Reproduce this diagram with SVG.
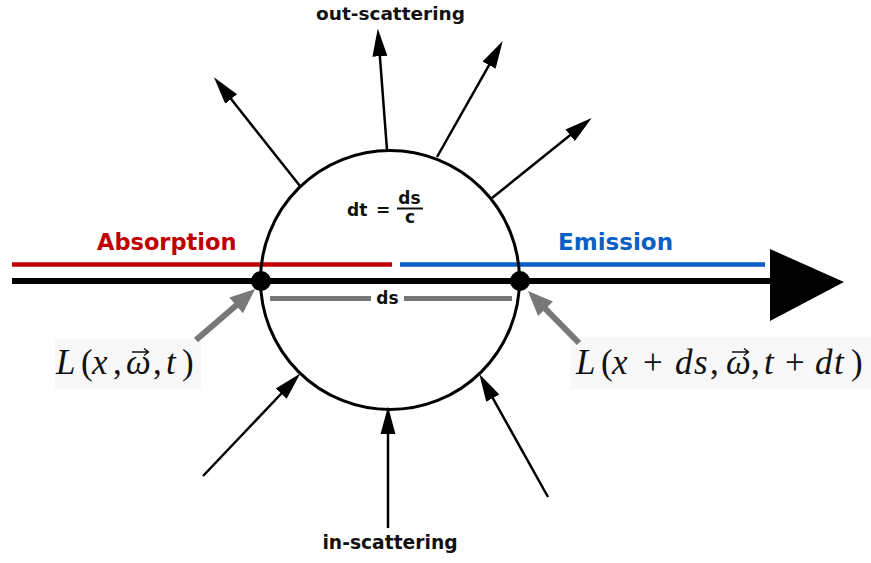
<svg xmlns="http://www.w3.org/2000/svg" width="871" height="563" viewBox="0 0 871 563">
<style>
.lbl{font-family:"DejaVu Sans","Verdana",sans-serif;font-weight:bold;fill:#111}
.math{font-family:"Liberation Serif","DejaVu Serif",serif;font-size:35px;fill:#111}
.it{font-style:italic}
.vec{stroke:#111;stroke-width:1.4;fill:none}
.thin{stroke:#000;stroke-width:2.5;fill:none}
.gray{stroke:#787878;stroke-width:6;fill:none}
</style>
<defs>
<marker id="ah" markerUnits="userSpaceOnUse" markerWidth="30" markerHeight="20" viewBox="0 -8 26 16" refX="2" refY="0" orient="auto">
<path d="M0,-6.5 L24,0 L0,6.5 z" fill="#000"/>
</marker>
<marker id="gh" markerUnits="userSpaceOnUse" markerWidth="30" markerHeight="24" viewBox="0 -11 26 22" refX="2" refY="0" orient="auto">
<path d="M0,-9.5 L23,0 L0,9.5 z" fill="#787878"/>
</marker>
</defs>
<rect width="871" height="563" fill="#fff"/>
<rect x="55" y="338" width="146" height="51" fill="#f8f8f8"/>
<rect x="570" y="337" width="301" height="53" fill="#f8f8f8"/>

<g id="bands">
<line x1="12" y1="264.5" x2="392" y2="264.5" stroke="#c00000" stroke-width="4.5"/>
<line x1="400" y1="264.5" x2="765" y2="264.5" stroke="#0a5fc2" stroke-width="4.5"/>
<text class="lbl" x="97" y="250" font-size="22.5" style="fill:#c00000">Absorption</text>
<text class="lbl" x="558" y="250" font-size="23" style="fill:#0a5fc2">Emission</text>
</g>

<g id="volume">
<circle cx="390" cy="280" r="129.5" fill="none" stroke="#000" stroke-width="3"/>
<text class="lbl" x="347" y="216" font-size="17">dt</text>
<text class="lbl" x="376" y="216" font-size="17">=</text>
<text class="lbl" x="409.5" y="204" font-size="17" text-anchor="middle">ds</text>
<line x1="397" y1="208.5" x2="423" y2="208.5" stroke="#111" stroke-width="2"/>
<text class="lbl" x="410" y="223" font-size="17" text-anchor="middle">c</text>
</g>

<g id="connectors">
<line x1="12" y1="281" x2="772" y2="281" stroke="#000" stroke-width="6"/>
<polygon points="770,249 844,282 770,321" fill="#000"/>
<line x1="270" y1="298.5" x2="371" y2="298.5" stroke="#777" stroke-width="5"/>
<line x1="404" y1="298.5" x2="512" y2="298.5" stroke="#777" stroke-width="5"/>
<line class="thin" x1="300" y1="186" x2="229.7" y2="97.2" marker-end="url(#ah)"/>
<line class="thin" x1="387" y1="150" x2="379.7" y2="53.9" marker-end="url(#ah)"/>
<line class="thin" x1="437" y1="157" x2="490.2" y2="63.1" marker-end="url(#ah)"/>
<line class="thin" x1="492" y1="198" x2="571.9" y2="133.8" marker-end="url(#ah)"/>
<line class="thin" x1="203" y1="476" x2="282.8" y2="392" marker-end="url(#ah)"/>
<line class="thin" x1="388" y1="528" x2="388" y2="432" marker-end="url(#ah)"/>
<line class="thin" x1="548" y1="497" x2="491.7" y2="396.2" marker-end="url(#ah)"/>
<line class="gray" x1="196" y1="340" x2="237.8" y2="304" marker-end="url(#gh)"/>
<line class="gray" x1="579" y1="343" x2="544" y2="307.3" marker-end="url(#gh)"/>
</g>

<g id="points">
<circle cx="261" cy="281" r="10" fill="#000"/>
<circle cx="520" cy="281" r="10" fill="#000"/>
<text class="lbl" x="387.5" y="304" font-size="17" text-anchor="middle">ds</text>
</g>

<g id="labels">
<text class="lbl" x="390.5" y="20" font-size="18.5" text-anchor="middle">out-scattering</text>
<text class="lbl" x="390" y="549" font-size="18.7" text-anchor="middle">in-scattering</text>
</g>

<g id="L-in">
<text class="math" y="374"><tspan class="it" x="56">L</tspan><tspan x="81">(</tspan><tspan class="it" x="92">x</tspan><tspan x="113">,</tspan><tspan class="it" x="126">ω</tspan><tspan x="153">,</tspan><tspan class="it" x="166">t</tspan><tspan x="182">)</tspan></text>
<path class="vec" d="M132,352 H148 M144,348.5 L148.5,352 L144,355.5"/>
</g>

<g id="L-out">
<text class="math" y="374"><tspan class="it" x="576">L</tspan><tspan x="601">(</tspan><tspan class="it" x="612">x</tspan><tspan x="643">+</tspan><tspan class="it" x="675">d</tspan><tspan class="it" x="694">s</tspan><tspan x="710">,</tspan><tspan class="it" x="726">ω</tspan><tspan x="751">,</tspan><tspan class="it" x="764">t</tspan><tspan x="785">+</tspan><tspan class="it" x="815">d</tspan><tspan class="it" x="834">t</tspan><tspan x="851">)</tspan></text>
<path class="vec" d="M732,352 H748 M744,348.5 L748.5,352 L744,355.5"/>
</g>
</svg>
